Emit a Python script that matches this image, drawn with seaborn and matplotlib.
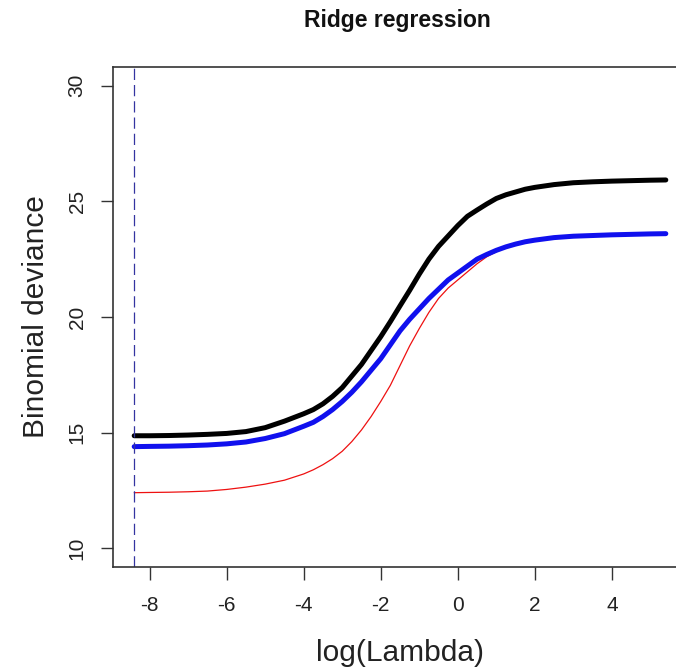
import numpy as np
import pandas as pd
import matplotlib
matplotlib.use("Agg")
import matplotlib.pyplot as plt
import seaborn as sns

# log(lambda) grid at which the cross-validated deviance curves are read
log_lambda = [-8.4, -8.0, -7.5, -7.0, -6.5, -6.0, -5.5, -5.0, -4.5,
              -4.0, -3.75, -3.5, -3.25, -3.0, -2.75, -2.5, -2.25,
              -2.0, -1.75, -1.5, -1.25, -1.0, -0.75, -0.5, -0.25,
              0.0, 0.25, 0.5, 0.75, 1.0, 1.25, 1.5, 1.75, 2.0,
              2.5, 3.0, 3.5, 4.0, 4.5, 5.0, 5.4]

# upper curve (black)
dev_upper = [14.87, 14.87, 14.88, 14.90, 14.93, 14.97, 15.05, 15.22, 15.50,
             15.82, 16.00, 16.25, 16.57, 16.95, 17.45, 17.95, 18.55,
             19.15, 19.80, 20.48, 21.15, 21.85, 22.50, 23.05, 23.50,
             23.95, 24.35, 24.62, 24.88, 25.12, 25.28, 25.40, 25.52, 25.60,
             25.72, 25.80, 25.84, 25.87, 25.89, 25.91, 25.92]

# mean curve (blue)
dev_mean = [14.40, 14.41, 14.42, 14.44, 14.47, 14.52, 14.60, 14.75, 14.96,
            15.28, 15.45, 15.70, 16.00, 16.35, 16.75, 17.20, 17.70,
            18.20, 18.80, 19.40, 19.90, 20.35, 20.80, 21.20, 21.60,
            21.90, 22.20, 22.50, 22.70, 22.88, 23.03, 23.15, 23.25, 23.32,
            23.43, 23.49, 23.52, 23.55, 23.57, 23.59, 23.60]

# lower curve (red)
dev_lower = [12.41, 12.42, 12.43, 12.45, 12.48, 12.55, 12.65, 12.78, 12.95,
             13.22, 13.40, 13.62, 13.88, 14.20, 14.62, 15.12, 15.70,
             16.35, 17.05, 17.90, 18.75, 19.50, 20.20, 20.80, 21.25,
             21.60, 21.95, 22.30, 22.60, 22.82, 23.00, 23.12, 23.22, 23.30,
             23.42, 23.48, 23.51, 23.54, 23.56, 23.58, 23.59]

lambda_min = -8.4

x_ticks = [-8, -6, -4, -2, 0, 2, 4]
y_ticks = [10, 15, 20, 25, 30]

sns.set_theme(style="white")
plt.rcParams["font.family"] = ["Liberation Sans", "DejaVu Sans"]

df = pd.DataFrame({"log_lambda": log_lambda, "upper": dev_upper,
                   "mean": dev_mean, "lower": dev_lower})

fig = plt.figure(figsize=(6.76, 6.69), dpi=100)
ax = fig.add_axes([113 / 676, 1 - 567 / 669, 574 / 676, 500 / 669])

sns.lineplot(data=df, x="log_lambda", y="lower", ax=ax, color="#ee1111",
             linewidth=0.9)
sns.lineplot(data=df, x="log_lambda", y="upper", ax=ax, color="black",
             linewidth=3.6)
sns.lineplot(data=df, x="log_lambda", y="mean", ax=ax, color="#1010ee",
             linewidth=3.6)
ax.axvline(lambda_min, color="#3434a0", linewidth=0.9, linestyle=(0, (9, 4)))

ax.set_xlim(-8.95, 5.95)
ax.set_ylim(9.2, 30.8)
ax.set_xticks(x_ticks)
ax.set_xticklabels([str(v) for v in x_ticks])
ax.set_yticks(y_ticks)
ax.set_yticklabels([str(v) for v in y_ticks], rotation=90, va="center")

for s in ax.spines.values():
    s.set_color("#333333")
    s.set_linewidth(1.2)
ax.tick_params(axis="both", which="major", direction="out", length=9,
               width=1.0, color="#333333", labelsize=15, labelcolor="#222222",
               bottom=True, left=True)
ax.tick_params(axis="x", pad=12)
ax.tick_params(axis="y", pad=10)

ax.set_xlabel("log(Lambda)", fontsize=21.5, color="#222222", labelpad=17)
ax.set_ylabel("Binomial deviance", fontsize=21.5, color="#222222", labelpad=13)
fig.text(397 / 676, 1 - 21 / 669, "Ridge regression", ha="center", va="center",
         fontsize=16.5, fontweight="bold", color="#111111")

fig.savefig("out.png", dpi=100, facecolor="white")
